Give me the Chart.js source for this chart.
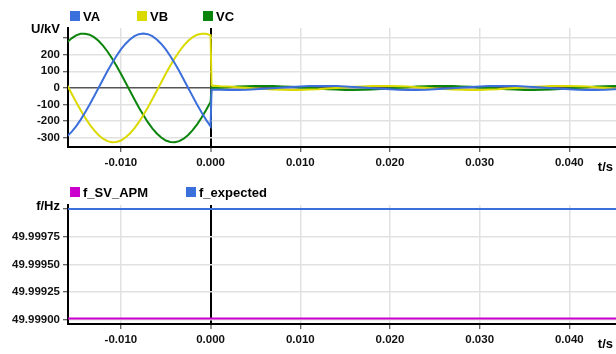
<!DOCTYPE html>
<html>
<head>
<meta charset="utf-8">
<script src="https://cdn.jsdelivr.net/npm/chart.js@4.4.1/dist/chart.umd.min.js"></script>
<style>
  html, body { margin: 0; padding: 0; background: #fff; overflow: hidden; }
  #wrap { position: relative; width: 616px; height: 354px; }
  canvas { position: absolute; left: 0; }
  #voltChart { top: 0; }
  #freqChart { top: 176px; }
</style>
</head>
<body>
<div id="wrap">
  <canvas id="voltChart" width="616" height="176"></canvas>
  <canvas id="freqChart" width="616" height="178"></canvas>
</div>
<script>
// ---- sample times (s) ----
const preTimes = [-0.0160, -0.0155, -0.0150, -0.0145, -0.0140, -0.0135, -0.0130, -0.0125,
  -0.0120, -0.0115, -0.0110, -0.0105, -0.0100, -0.0095, -0.0090, -0.0085, -0.0080, -0.0075,
  -0.0070, -0.0065, -0.0060, -0.0055, -0.0050, -0.0045, -0.0040, -0.0035, -0.0030, -0.0025,
  -0.0020, -0.0015, -0.0010, -0.0005, 0.0000];
const postTimes = [0.0001, 0.001, 0.002, 0.003, 0.004, 0.005, 0.006, 0.007, 0.008, 0.009,
  0.010, 0.011, 0.012, 0.013, 0.014, 0.015, 0.016, 0.017, 0.018, 0.019, 0.020, 0.021, 0.022,
  0.023, 0.024, 0.025, 0.026, 0.027, 0.028, 0.029, 0.030, 0.031, 0.032, 0.033, 0.034, 0.035,
  0.036, 0.037, 0.038, 0.039, 0.040, 0.041, 0.042, 0.043, 0.044, 0.045, 0.046];

// ---- phase voltages (kV) before the event ----
const vaPre = [-291, -264, -231, -192, -148, -101, -51, 0, 51, 101, 148, 192, 231, 264, 291,
  311, 323, 327, 323, 311, 291, 264, 231, 192, 148, 101, 51, 0, -51, -101, -148, -192, -231];
const vbPre = [17, -34, -85, -133, -178, -219, -254, -283, -305, -320, -326, -325, -316, -298,
  -274, -243, -206, -163, -117, -68, -17, 34, 85, 133, 178, 219, 254, 283, 305, 320, 326, 325, 316];
const vcPre = [274, 298, 316, 325, 326, 320, 305, 283, 254, 219, 178, 133, 85, 34, -17, -68,
  -117, -163, -206, -243, -274, -298, -316, -325, -326, -320, -305, -283, -254, -219, -178, -133, -85];

// ---- phase voltages (kV) after the event ----
const vaPost = [-11, -11, -12, -12, -11, -8, -5, -2, 2, 5, 8, 11, 12, 12, 11, 8, 5, 2, -2, -5, -8,
  -11, -12, -12, -11, -8, -5, -2, 2, 5, 8, 11, 12, 12, 11, 8, 5, 2, -2, -5, -8,
  -11, -12, -12, -11, -8, -5];
const vbPost = [14, 10, 8, 4, 1, -3, -7, -9, -11, -12, -12, -10, -8, -4, -1, 3, 7, 9, 11, 12, 12,
  10, 8, 4, 1, -3, -7, -9, -11, -12, -12, -10, -8, -4, -1, 3, 7, 9, 11, 12, 12,
  10, 8, 4, 1, -3, -7];
const vcPost = [3, 1, 4, 8, 10, 12, 12, 11, 9, 7, 3, -1, -4, -8, -10, -12, -12, -11, -9, -7, -3,
  1, 4, 8, 10, 12, 12, 11, 9, 7, 3, -1, -4, -8, -10, -12, -12, -11, -9, -7, -3,
  1, 4, 8, 10, 12, 12];

// ---- frequency (Hz) ----
const freqTimes = [-0.016, 0.046];
const fSvApm = [49.99901, 49.99901];
const fExpected = [50.0, 50.0];

// ---- tick values ----
const timeTicks = [-0.01, 0, 0.01, 0.02, 0.03, 0.04];
const voltTicks = [-300, -200, -100, 0, 100, 200, 300];
const freqTicks = [49.999, 49.99925, 49.9995, 49.99975, 50.0];

const FONT = '"Liberation Sans", Arial, Helvetica, sans-serif';
Chart.defaults.font.family = FONT;
Chart.defaults.font.weight = 'bold';
Chart.defaults.font.size = 11.5;
Chart.defaults.color = '#111';

const pts = (xs, ys) => xs.map((x, i) => ({ x: x, y: ys[i] }));
const times = preTimes.concat(postTimes);

// legend squares, unit captions
const overlay = {
  id: 'overlay',
  afterDraw(chart, args, o) {
    const ctx = chart.ctx, a = chart.chartArea;
    ctx.save();
    ctx.font = 'bold 13px ' + FONT;
    ctx.textAlign = 'left';
    ctx.textBaseline = 'alphabetic';
    chart.data.datasets.forEach((ds, i) => {
      const x = o.legendX[i];
      ctx.fillStyle = ds.borderColor;
      ctx.fillRect(x, o.legendTop, 10, 10);
      ctx.fillStyle = '#000';
      ctx.fillText(ds.label, x + 13, o.legendTop + 9.5);
    });
    ctx.textAlign = 'right';
    ctx.textBaseline = 'middle';
    ctx.fillText(o.yUnit, a.left - 8, a.top + 1.5);
    ctx.fillText(o.xUnit, chart.width - 3, a.bottom + 20.5);
    ctx.restore();
  }
};

function timeAxis(axisHeight) {
  return {
    type: 'linear',
    min: -0.0159,
    max: 0.0452,
    afterBuildTicks: s => { s.ticks = timeTicks.map(v => ({ value: v })); },
    afterFit: s => { s.height = axisHeight; },
    ticks: { autoSkip: false, maxRotation: 0, padding: 4, callback: v => Number(v).toFixed(3) },
    grid: {
      color: c => (c.tick && c.tick.value === 0) ? '#000' : '#e1e1e1',
      lineWidth: c => (c.tick && c.tick.value === 0) ? 2 : 1.5,
      tickLength: 5,
      tickColor: '#333',
      tickWidth: 1
    },
    border: { color: '#000', width: 2 }
  };
}

function valueAxis(min, max, tickVals, fmt, zeroColor) {
  return {
    type: 'linear',
    min: min,
    max: max,
    afterBuildTicks: s => { s.ticks = tickVals.map(v => ({ value: v })); },
    afterFit: s => { s.width = 68; },
    ticks: { autoSkip: false, padding: 3, callback: fmt },
    grid: {
      color: c => (zeroColor && c.tick && c.tick.value === 0) ? zeroColor : '#e1e1e1',
      lineWidth: 1.5,
      tickLength: 5,
      tickColor: '#333',
      tickWidth: 1
    },
    border: { color: '#000', width: 2 }
  };
}

const common = {
  responsive: false,
  animation: false,
  devicePixelRatio: 1,
  events: [],
  elements: { point: { radius: 0 }, line: { borderWidth: 2, tension: 0 } }
};

new Chart(document.getElementById('voltChart'), {
  type: 'line',
  data: {
    datasets: [
      { label: 'VA', data: pts(times, vaPre.concat(vaPost)), borderColor: '#3b6fdc', backgroundColor: '#3b6fdc' },
      { label: 'VB', data: pts(times, vbPre.concat(vbPost)), borderColor: '#dada00', backgroundColor: '#dada00' },
      { label: 'VC', data: pts(times, vcPre.concat(vcPost)), borderColor: '#0b840b', backgroundColor: '#0b840b' }
    ]
  },
  options: Object.assign({}, common, {
    layout: { padding: { top: 28, left: 0, right: 0, bottom: 0 } },
    plugins: {
      legend: { display: false },
      tooltip: { enabled: false },
      overlay: { legendX: [70, 137, 203], legendTop: 11, yUnit: 'U/kV', xUnit: 't/s' }
    },
    scales: {
      x: timeAxis(29),
      y: valueAxis(-355, 360, voltTicks, v => (v === 300 ? '' : String(v)), '#555')
    }
  }),
  plugins: [overlay]
});

new Chart(document.getElementById('freqChart'), {
  type: 'line',
  data: {
    datasets: [
      { label: 'f_SV_APM', data: pts(freqTimes, fSvApm), borderColor: '#cc00cc', backgroundColor: '#cc00cc' },
      { label: 'f_expected', data: pts(freqTimes, fExpected), borderColor: '#3b6fdc', backgroundColor: '#3b6fdc' }
    ]
  },
  options: Object.assign({}, common, {
    layout: { padding: { top: 29, left: 0, right: 0, bottom: 0 } },
    plugins: {
      legend: { display: false },
      tooltip: { enabled: false },
      overlay: { legendX: [70, 186], legendTop: 11, yUnit: 'f/Hz', xUnit: 't/s' }
    },
    scales: {
      x: timeAxis(30),
      y: valueAxis(49.998961, 50.000036, freqTicks, v => (Math.abs(v - 50) < 1e-9 ? '' : Number(v).toFixed(5)), null)
    }
  }),
  plugins: [overlay]
});
</script>
</body>
</html>
